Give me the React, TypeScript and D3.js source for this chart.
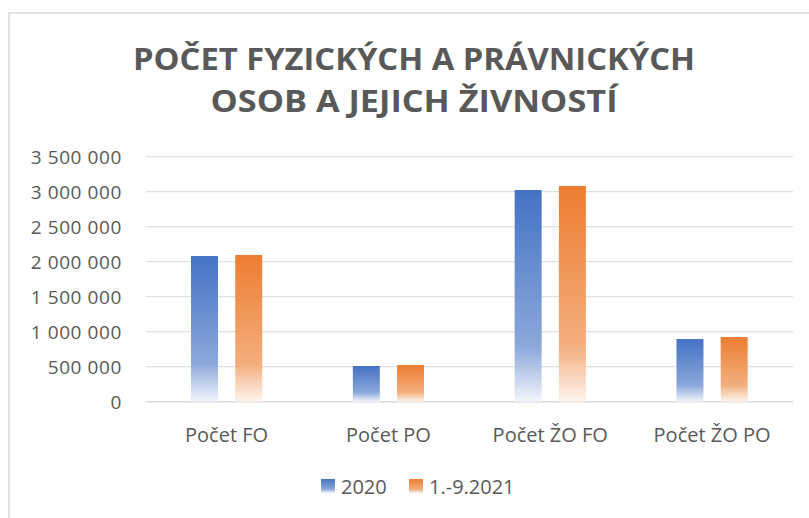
import React from "react";
import * as d3 from "d3";

const titleLines = ["POČET FYZICKÝCH A PRÁVNICKÝCH", "OSOB A JEJICH ŽIVNOSTÍ"];
const categories = ["Počet FO", "Počet PO", "Počet ŽO FO", "Počet ŽO PO"];
const seriesNames = ["2020", "1.-9.2021"];
const values2020 = [2081000, 510000, 3024000, 895000];
const values2021 = [2096000, 524000, 3081000, 924000];
const yTicks = [0, 500000, 1000000, 1500000, 2000000, 2500000, 3000000, 3500000];
const seriesColors = [
  ["#4472C4", "#8CA8DB", "#F2F5FB"],
  ["#ED7D31", "#F3AE7D", "#FDF4EE"],
];

const W = 809;
const H = 518;
const plotLeft = 145.7;
const plotRight = 793;
const plotTop = 156.7;
const plotBottom = 401.7;
const textColor = "#595959";

const fmt = (v: number) => d3.format(",")(v).replace(/,/g, " ");

export default function App() {
  const y = d3.scaleLinear().domain([0, 3500000]).range([plotBottom, plotTop]);
  const x0 = d3.scaleBand<string>().domain(categories).range([plotLeft, plotRight]);
  const bw0 = x0.bandwidth();
  const x1 = d3
    .scaleBand<string>()
    .domain(seriesNames)
    .range([bw0 * 0.28, bw0 * 0.72])
    .paddingInner(0.39);
  const data = [values2020, values2021];

  return (
    <svg
      width={W}
      height={H}
      viewBox={`0 0 ${W} ${H}`}
      style={{ position: "absolute", left: 0, top: 0, background: "#fff" }}
      fontFamily="'Open Sans', sans-serif"
    >
      <defs>
        {seriesColors.map((c, i) => (
          <linearGradient key={i} id={`grad${i}`} x1="0" y1="0" x2="0" y2="1">
            <stop offset="0" stopColor={c[0]} />
            <stop offset="0.74" stopColor={c[1]} />
            <stop offset="1" stopColor={c[2]} />
          </linearGradient>
        ))}
      </defs>
      <rect x={0} y={0} width={W} height={H} fill="#fff" />
      <rect x={9} y={13} width={W + 20} height={H + 20} fill="none" stroke="#d9d9d9" strokeWidth={1.5} />

      {titleLines.map((t, i) => (
        <text
          key={t}
          x={414}
          y={i === 0 ? 69.5 : 112}
          textAnchor="middle"
          fontSize={30}
          fontWeight={700}
          fill={textColor}
          textLength={i === 0 ? 562 : 407}
          lengthAdjust="spacingAndGlyphs"
        >
          {t}
        </text>
      ))}

      {yTicks.map((t) => (
        <g key={t}>
          <line
            x1={plotLeft}
            x2={plotRight}
            y1={y(t)}
            y2={y(t)}
            stroke="#d9d9d9"
            strokeWidth={t === 0 ? 1.5 : 1}
          />
          <text
            x={122}
            y={y(t) + 7}
            textAnchor="end"
            fontSize={19}
            letterSpacing={0.6}
            fill={textColor}
          >
            {fmt(t)}
          </text>
        </g>
      ))}

      {categories.map((c, ci) => (
        <g key={c} transform={`translate(${x0(c)},0)`}>
          {seriesNames.map((s, si) => (
            <rect
              key={s}
              x={x1(s)}
              y={y(data[si][ci])}
              width={x1.bandwidth()}
              height={plotBottom - y(data[si][ci])}
              fill={`url(#grad${si})`}
            />
          ))}
          <text
            x={bw0 / 2}
            y={441.7}
            textAnchor="middle"
            fontSize={20}
            fill={textColor}
          >
            {c}
          </text>
        </g>
      ))}

      {seriesNames.map((s, i) => {
        const lx = i === 0 ? 321 : 409;
        return (
          <g key={s}>
            <rect x={lx} y={479} width={14} height={14} fill={`url(#grad${i})`} />
            <text x={lx + 20} y={494} fontSize={20} fill={textColor}>
              {s}
            </text>
          </g>
        );
      })}
    </svg>
  );
}
